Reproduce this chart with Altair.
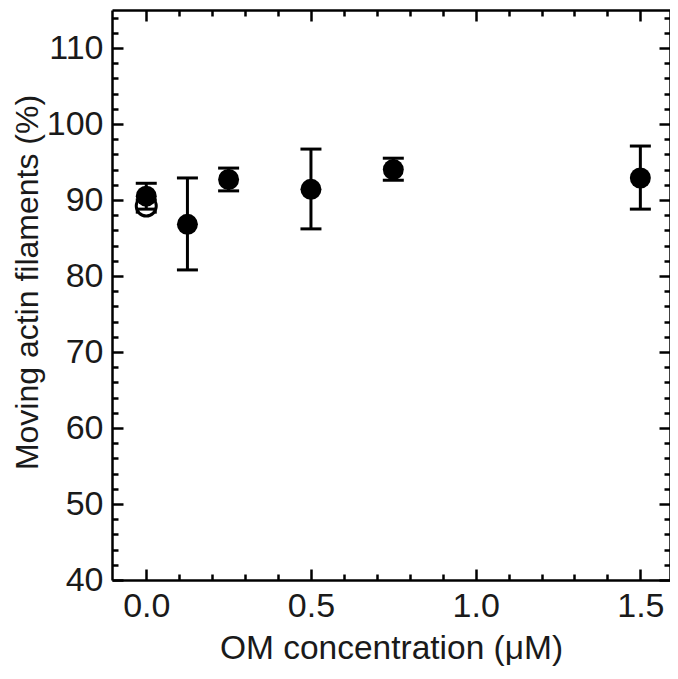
import altair as alt
import pandas as pd

# data
conc = [0.0, 0.125, 0.25, 0.5, 0.75, 1.5]
moving = [90.5, 86.8, 92.7, 91.4, 94.0, 92.9]
err_lo = [88.8, 80.8, 91.2, 86.2, 92.6, 88.8]
err_hi = [92.2, 92.9, 94.2, 96.7, 95.5, 97.1]

ctrl_conc = [0.0]
ctrl_moving = [89.2]
ctrl_lo = [88.4]
ctrl_hi = [90.0]

x_major = [0.0, 0.5, 1.0, 1.5]
x_minor = [0.1, 0.2, 0.3, 0.4, 0.6, 0.7, 0.8, 0.9, 1.1, 1.2, 1.3, 1.4]
y_major = [40, 50, 60, 70, 80, 90, 100, 110]
y_minor = [42, 44, 46, 48, 52, 54, 56, 58, 62, 64, 66, 68, 72, 74, 76, 78,
           82, 84, 86, 88, 92, 94, 96, 98, 102, 104, 106, 108, 112, 114]

W, H = 558, 570
XDOM = [-0.104, 1.59]
YDOM = [40, 115]
FONT = "Liberation Sans"
TXT = "#1a1a1a"

df = pd.DataFrame({"c": conc, "m": moving, "lo": err_lo, "hi": err_hi})
dc = pd.DataFrame({"c": ctrl_conc, "m": ctrl_moving, "lo": ctrl_lo, "hi": ctrl_hi})

xs = alt.Scale(domain=XDOM, nice=False, zero=False)
ys = alt.Scale(domain=YDOM, nice=False, zero=False)

main_x_axis = alt.Axis(title="OM concentration (\u03bcM)", values=x_major, format=".1f",
                       ticks=False, domain=False, grid=False, labelPadding=9,
                       labelFontSize=34, titleFontSize=33.5, labelFont=FONT, titleFont=FONT,
                       labelColor=TXT, titleColor=TXT, titleFontWeight="normal", titlePadding=9)
main_y_axis = alt.Axis(title="Moving actin filaments (%)", values=y_major, format="d",
                       ticks=False, domain=False, grid=False, labelPadding=9,
                       labelFontSize=34, titleFontSize=32, labelFont=FONT, titleFont=FONT,
                       labelColor=TXT, titleColor=TXT, titleFontWeight="normal", titlePadding=2,
                       titleY=272)

base_c = alt.Chart(dc)
base = alt.Chart(df)

X = lambda f: alt.X(f, scale=xs)
Y = lambda f: alt.Y(f, scale=ys)

ctrl_rule = base_c.mark_rule(color="black", strokeWidth=3, opacity=1).encode(
    x=alt.X("c:Q", scale=xs, axis=main_x_axis), y=alt.Y("lo:Q", scale=ys, axis=main_y_axis), y2="hi:Q")
ctrl_caps_hi = base_c.mark_tick(color="black", thickness=3, size=21, orient="horizontal", opacity=1).encode(
    x=X("c:Q"), y=Y("hi:Q"))
ctrl_caps_lo = base_c.mark_tick(color="black", thickness=3, size=21, orient="horizontal", opacity=1).encode(
    x=X("c:Q"), y=Y("lo:Q"))
ctrl_pt = base_c.mark_point(shape="circle", filled=False, size=400, stroke="black",
                            strokeWidth=3, fill="white", fillOpacity=1, opacity=1).encode(
    x=X("c:Q"), y=Y("m:Q"))

rules = base.mark_rule(color="black", strokeWidth=3, opacity=1).encode(
    x=X("c:Q"), y=Y("lo:Q"), y2="hi:Q")
caps_hi = base.mark_tick(color="black", thickness=3, size=21, orient="horizontal", opacity=1).encode(
    x=X("c:Q"), y=Y("hi:Q"))
caps_lo = base.mark_tick(color="black", thickness=3, size=21, orient="horizontal", opacity=1).encode(
    x=X("c:Q"), y=Y("lo:Q"))
pts = base.mark_point(shape="circle", filled=True, size=440, color="black", opacity=1).encode(
    x=X("c:Q"), y=Y("m:Q"))

main = alt.layer(ctrl_rule, ctrl_caps_hi, ctrl_caps_lo, ctrl_pt,
                 rules, caps_hi, caps_lo, pts)

def tick_layer(xorient, xoffset, xvals, yorient, yoffset, yvals, size, domain):
    common = dict(labels=False, title=None, grid=False, ticks=True, tickSize=size,
                  tickWidth=2.5, tickColor="black", domain=domain, domainColor="black",
                  domainWidth=2.5, zindex=2)
    xa = alt.Axis(orient=xorient, offset=xoffset, values=xvals, **common)
    ya = alt.Axis(orient=yorient, offset=yoffset, values=yvals, **common)
    return alt.Chart(df).mark_point(opacity=0).encode(
        x=alt.X("c:Q", scale=xs, axis=xa), y=alt.Y("m:Q", scale=ys, axis=ya))

layers = [
    main,
    tick_layer("top", -H, x_minor, "right", -W, y_minor, 6, True),
    tick_layer("top", -H, x_major, "right", -W, y_major, 11, False),
    tick_layer("bottom", -H, x_minor, "left", -W, y_minor, 6, True),
    tick_layer("bottom", -H, x_major, "left", -W, y_major, 11, False),
]

chart = alt.layer(*layers).resolve_axis(x="independent", y="independent").properties(
    width=W, height=H,
    autosize=alt.AutoSizeParams(type="none"),
    padding={"left": 104, "top": 2, "right": 0, "bottom": 91},
).configure_view(stroke=None).configure(background="white")

chart.save("out.html", embed_options={"renderer": "svg", "actions": False})
